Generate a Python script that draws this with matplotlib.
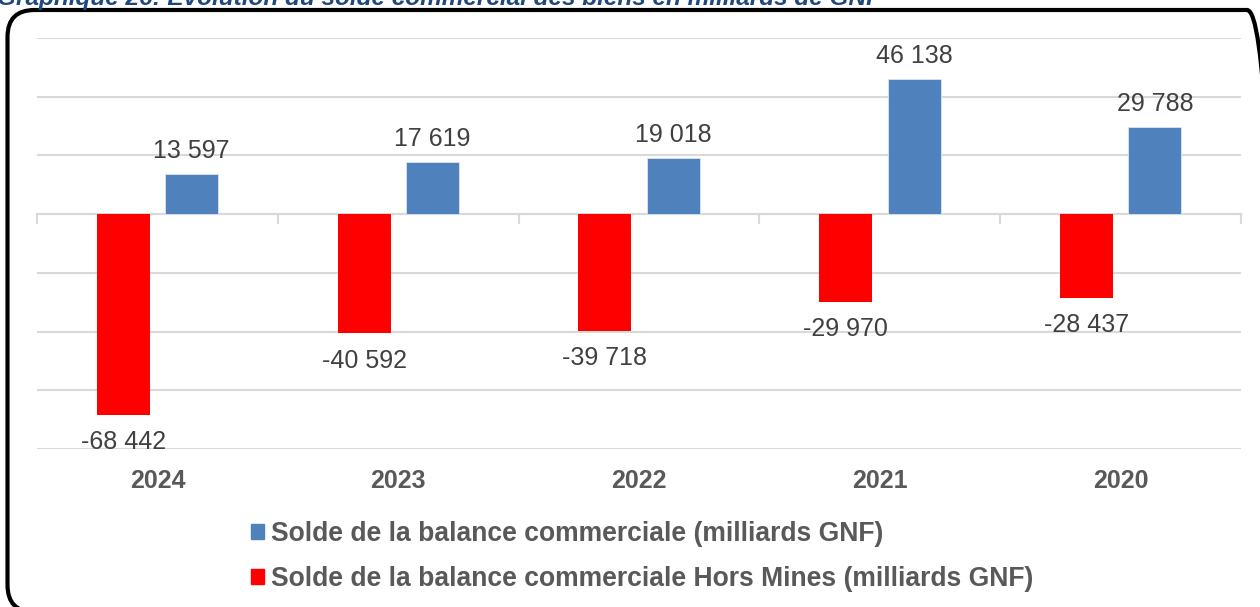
import matplotlib
matplotlib.use('Agg')
import matplotlib.pyplot as plt
from matplotlib.patches import FancyBboxPatch, Patch
import numpy as np

plt.rcParams['font.family'] = ['Liberation Sans', 'DejaVu Sans']

# data (milliards GNF)
years = ['2024', '2023', '2022', '2021', '2020']
solde = [13597, 17619, 19018, 46138, 29788]
solde_hors_mines = [-68442, -40592, -39718, -29970, -28437]
series_names = ['Solde de la balance commerciale (milliards GNF)',
                'Solde de la balance commerciale Hors Mines (milliards GNF)']
title = 'Graphique 26: Évolution du solde commercial des biens en milliards de GNF'

blue = '#4F81BD'
red = '#FF0000'
grid_c = '#D9D9D9'

fig = plt.figure(figsize=(12.6, 6.07), dpi=100)
ax = fig.add_axes([0.0294, 0.2603, 0.9556, 0.6771])

# rounded frame around the chart (in inches, runs off the right and bottom edges)
frame = FancyBboxPatch((0.075, -0.05), 12.665, 6.02, transform=fig.dpi_scale_trans,
                       boxstyle='round,pad=0,rounding_size=0.27',
                       fc='none', ec='black', lw=3)
fig.patches.append(frame)

fig.text(-0.002, 0.9918, title, color='#1F497D', fontsize=17.6, fontweight='bold',
         fontstyle='italic', ha='left', va='baseline')

x = np.arange(len(years))
w = 0.22
off = 0.142
ax.bar(x - off, solde_hors_mines, w, color=red, zorder=3)
ax.bar(x + off, solde, w, color=blue, edgecolor='#DCE6F2', lw=0.6, zorder=3)

for xi, v in zip(x, solde):
    ax.annotate(f'{v:,}'.replace(',', ' '), (xi + off, v), xytext=(0, 8),
                textcoords='offset points', ha='center', va='bottom',
                fontsize=18, color='#404040')
for xi, v in zip(x, solde_hors_mines):
    ax.annotate(f'{v:,}'.replace(',', ' '), (xi - off, v), xytext=(0, -11),
                textcoords='offset points', ha='center', va='top',
                fontsize=18, color='#404040')

ax.set_xlim(-0.5, len(years) - 0.5)
ax.set_ylim(-80000, 60000)
ax.set_yticks(np.arange(-80000, 60001, 20000))
ax.yaxis.grid(True, color=grid_c, lw=1.5, zorder=0)
ax.tick_params(axis='y', length=0, labelleft=False)

for s in ['top', 'right', 'left']:
    ax.spines[s].set_visible(False)
ax.spines['bottom'].set_position(('data', 0))
ax.spines['bottom'].set_color(grid_c)
ax.spines['bottom'].set_linewidth(1.5)
ax.spines['bottom'].set_zorder(2)

ax.set_xticks(x)
ax.set_xticks(np.arange(-0.5, len(years)), minor=True)
ax.tick_params(axis='x', which='major', length=0, labelbottom=False)
ax.tick_params(axis='x', which='minor', length=7, width=1.5, color=grid_c, direction='out')

for xi, yr in zip(x, years):
    ax.text(xi, -0.078, yr, transform=ax.get_xaxis_transform(), ha='center', va='center',
            fontsize=18, fontweight='bold', color='#595959')

handles = [Patch(color=blue), Patch(color=red)]
fig.legend(handles, series_names, loc='center left', bbox_to_anchor=(0.199, 0.083),
           frameon=False, prop={'weight': 'bold', 'size': 19.1},
           handlelength=0.5, handleheight=0.5, handletextpad=0.25,
           labelspacing=0.7, borderpad=0, borderaxespad=0, labelcolor='#595959')

fig.savefig('out.png', dpi=100)
